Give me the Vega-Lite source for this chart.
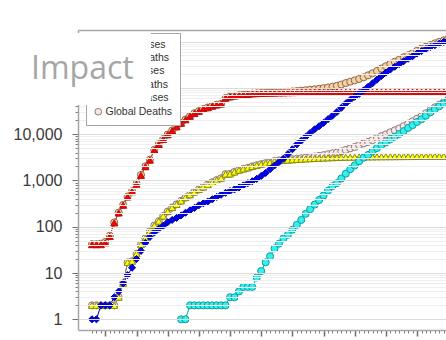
{
  "$schema": "https://vega.github.io/schema/vega-lite/v6.json",
  "width": 392,
  "height": 300,
  "autosize": {"type": "none"},
  "padding": {"left": 78, "top": 30, "right": 0, "bottom": 10},
  "background": "#ffffff",
  "title": {
    "text": "Impact", "orient": "top", "anchor": "start", "frame": "group",
    "offset": 0, "dx": -47, "dy": 80.5, "baseline": "alphabetic",
    "font": "Open Sans", "fontSize": 32, "fontWeight": "normal", "color": "#a6a6a6", "zindex": 4
  },
  "datasets": {
    "covid": [
      {"d":0,"China Cases":41,"China Deaths":2,"Other Cases":1,"Global Cases":42,"Global Deaths":2},
      {"d":1,"China Cases":41,"China Deaths":2,"Other Cases":1,"Global Cases":42,"Global Deaths":2},
      {"d":2,"China Cases":41,"China Deaths":2,"Other Cases":2,"Global Cases":43,"Global Deaths":2},
      {"d":3,"China Cases":45,"China Deaths":2,"Other Cases":2,"Global Cases":47,"Global Deaths":2},
      {"d":4,"China Cases":62,"China Deaths":2,"Other Cases":2,"Global Cases":64,"Global Deaths":2},
      {"d":5,"China Cases":121,"China Deaths":2,"Other Cases":3,"Global Cases":124,"Global Deaths":2},
      {"d":6,"China Cases":198,"China Deaths":3,"Other Cases":4,"Global Cases":202,"Global Deaths":3},
      {"d":7,"China Cases":291,"China Deaths":6,"Other Cases":6,"Global Cases":297,"Global Deaths":6},
      {"d":8,"China Cases":440,"China Deaths":17,"Other Cases":9,"Global Cases":449,"Global Deaths":17},
      {"d":9,"China Cases":571,"China Deaths":18,"Other Cases":13,"Global Cases":584,"Global Deaths":18},
      {"d":10,"China Cases":830,"China Deaths":26,"Other Cases":20,"Global Cases":850,"Global Deaths":26},
      {"d":11,"China Cases":1287,"China Deaths":41,"Other Cases":30,"Global Cases":1317,"Global Deaths":41},
      {"d":12,"China Cases":1975,"China Deaths":56,"Other Cases":45,"Global Cases":2020,"Global Deaths":56},
      {"d":13,"China Cases":2744,"China Deaths":80,"Other Cases":60,"Global Cases":2804,"Global Deaths":80},
      {"d":14,"China Cases":4515,"China Deaths":106,"Other Cases":75,"Global Cases":4590,"Global Deaths":106},
      {"d":15,"China Cases":5974,"China Deaths":132,"Other Cases":90,"Global Cases":6064,"Global Deaths":132},
      {"d":16,"China Cases":7711,"China Deaths":170,"Other Cases":105,"Global Cases":7816,"Global Deaths":170},
      {"d":17,"China Cases":9692,"China Deaths":213,"Other Cases":125,"Global Cases":9817,"Global Deaths":213},
      {"d":18,"China Cases":11791,"China Deaths":259,"Other Cases":140,"Global Cases":11931,"Global Deaths":259},
      {"d":19,"China Cases":14380,"China Deaths":304,"Other Cases":155,"Global Cases":14535,"Global Deaths":304},
      {"d":20,"China Cases":17205,"China Deaths":361,"Other Cases":175,"Other Deaths":1,"Global Cases":17380,"Global Deaths":362},
      {"d":21,"China Cases":20438,"China Deaths":425,"Other Cases":200,"Other Deaths":1,"Global Cases":20638,"Global Deaths":426},
      {"d":22,"China Cases":24324,"China Deaths":490,"Other Cases":225,"Other Deaths":2,"Global Cases":24549,"Global Deaths":492},
      {"d":23,"China Cases":28018,"China Deaths":562,"Other Cases":255,"Other Deaths":2,"Global Cases":28273,"Global Deaths":564},
      {"d":24,"China Cases":31161,"China Deaths":636,"Other Cases":290,"Other Deaths":2,"Global Cases":31451,"Global Deaths":638},
      {"d":25,"China Cases":34546,"China Deaths":722,"Other Cases":320,"Other Deaths":2,"Global Cases":34866,"Global Deaths":724},
      {"d":26,"China Cases":37198,"China Deaths":811,"Other Cases":350,"Other Deaths":2,"Global Cases":37548,"Global Deaths":813},
      {"d":27,"China Cases":40171,"China Deaths":908,"Other Cases":390,"Other Deaths":2,"Global Cases":40561,"Global Deaths":910},
      {"d":28,"China Cases":42638,"China Deaths":1016,"Other Cases":440,"Other Deaths":2,"Global Cases":43078,"Global Deaths":1018},
      {"d":29,"China Cases":44653,"China Deaths":1113,"Other Cases":490,"Other Deaths":2,"Global Cases":45143,"Global Deaths":1115},
      {"d":30,"China Cases":59804,"China Deaths":1367,"Other Cases":540,"Other Deaths":2,"Global Cases":60344,"Global Deaths":1369},
      {"d":31,"China Cases":63851,"China Deaths":1380,"Other Cases":590,"Other Deaths":3,"Global Cases":64441,"Global Deaths":1383},
      {"d":32,"China Cases":66492,"China Deaths":1523,"Other Cases":640,"Other Deaths":3,"Global Cases":67132,"Global Deaths":1526},
      {"d":33,"China Cases":68500,"China Deaths":1665,"Other Cases":700,"Other Deaths":4,"Global Cases":69200,"Global Deaths":1669},
      {"d":34,"China Cases":70548,"China Deaths":1770,"Other Cases":780,"Other Deaths":5,"Global Cases":71328,"Global Deaths":1775},
      {"d":35,"China Cases":72436,"China Deaths":1868,"Other Cases":870,"Other Deaths":5,"Global Cases":73306,"Global Deaths":1873},
      {"d":36,"China Cases":74185,"China Deaths":2004,"Other Cases":960,"Other Deaths":5,"Global Cases":75145,"Global Deaths":2009},
      {"d":37,"China Cases":75002,"China Deaths":2118,"Other Cases":1080,"Other Deaths":8,"Global Cases":76082,"Global Deaths":2126},
      {"d":38,"China Cases":75891,"China Deaths":2236,"Other Cases":1250,"Other Deaths":11,"Global Cases":77141,"Global Deaths":2247},
      {"d":39,"China Cases":76288,"China Deaths":2345,"Other Cases":1450,"Other Deaths":17,"Global Cases":77738,"Global Deaths":2362},
      {"d":40,"China Cases":76936,"China Deaths":2442,"Other Cases":1750,"Other Deaths":23,"Global Cases":78686,"Global Deaths":2465},
      {"d":41,"China Cases":77150,"China Deaths":2592,"Other Cases":2100,"Other Deaths":34,"Global Cases":79250,"Global Deaths":2626},
      {"d":42,"China Cases":77658,"China Deaths":2663,"Other Cases":2500,"Other Deaths":43,"Global Cases":80158,"Global Deaths":2706},
      {"d":43,"China Cases":78064,"China Deaths":2715,"Other Cases":2950,"Other Deaths":56,"Global Cases":81014,"Global Deaths":2771},
      {"d":44,"China Cases":78497,"China Deaths":2744,"Other Cases":3700,"Other Deaths":67,"Global Cases":82197,"Global Deaths":2811},
      {"d":45,"China Cases":78824,"China Deaths":2788,"Other Cases":4700,"Other Deaths":86,"Global Cases":83524,"Global Deaths":2874},
      {"d":46,"China Cases":79251,"China Deaths":2835,"Other Cases":6000,"Other Deaths":110,"Global Cases":85251,"Global Deaths":2945},
      {"d":47,"China Cases":79824,"China Deaths":2870,"Other Cases":7200,"Other Deaths":140,"Global Cases":87024,"Global Deaths":3010},
      {"d":48,"China Cases":80026,"China Deaths":2912,"Other Cases":8800,"Other Deaths":190,"Global Cases":88826,"Global Deaths":3102},
      {"d":49,"China Cases":80151,"China Deaths":2943,"Other Cases":10600,"Other Deaths":240,"Global Cases":90751,"Global Deaths":3183},
      {"d":50,"China Cases":80270,"China Deaths":2981,"Other Cases":12700,"Other Deaths":300,"Global Cases":92970,"Global Deaths":3281},
      {"d":51,"China Cases":80409,"China Deaths":3012,"Other Cases":14800,"Other Deaths":377,"Global Cases":95209,"Global Deaths":3389},
      {"d":52,"China Cases":80552,"China Deaths":3042,"Other Cases":17500,"Other Deaths":470,"Global Cases":98052,"Global Deaths":3512},
      {"d":53,"China Cases":80651,"China Deaths":3070,"Other Cases":21000,"Other Deaths":600,"Global Cases":101651,"Global Deaths":3670},
      {"d":54,"China Cases":80695,"China Deaths":3097,"Other Cases":25000,"Other Deaths":750,"Global Cases":105695,"Global Deaths":3847},
      {"d":55,"China Cases":80735,"China Deaths":3119,"Other Cases":30000,"Other Deaths":870,"Global Cases":110735,"Global Deaths":3989},
      {"d":56,"China Cases":80754,"China Deaths":3136,"Other Cases":37000,"Other Deaths":1100,"Global Cases":117754,"Global Deaths":4236},
      {"d":57,"China Cases":80778,"China Deaths":3158,"Other Cases":46000,"Other Deaths":1400,"Global Cases":126778,"Global Deaths":4558},
      {"d":58,"China Cases":80793,"China Deaths":3169,"Other Cases":55000,"Other Deaths":1750,"Global Cases":135793,"Global Deaths":4919},
      {"d":59,"China Cases":80813,"China Deaths":3176,"Other Cases":64000,"Other Deaths":2100,"Global Cases":144813,"Global Deaths":5276},
      {"d":60,"China Cases":80824,"China Deaths":3189,"Other Cases":74000,"Other Deaths":2600,"Global Cases":154824,"Global Deaths":5789},
      {"d":61,"China Cases":80844,"China Deaths":3199,"Other Cases":88000,"Other Deaths":3100,"Global Cases":168844,"Global Deaths":6299},
      {"d":62,"China Cases":80860,"China Deaths":3213,"Other Cases":105000,"Other Deaths":3550,"Global Cases":185860,"Global Deaths":6763},
      {"d":63,"China Cases":80881,"China Deaths":3226,"Other Cases":125000,"Other Deaths":4200,"Global Cases":205881,"Global Deaths":7426},
      {"d":64,"China Cases":80894,"China Deaths":3237,"Other Cases":150000,"Other Deaths":5000,"Global Cases":230894,"Global Deaths":8237},
      {"d":65,"China Cases":80928,"China Deaths":3245,"Other Cases":180000,"Other Deaths":5800,"Global Cases":260928,"Global Deaths":9045},
      {"d":66,"China Cases":80967,"China Deaths":3248,"Other Cases":212000,"Other Deaths":6600,"Global Cases":292967,"Global Deaths":9848},
      {"d":67,"China Cases":81008,"China Deaths":3255,"Other Cases":248000,"Other Deaths":7700,"Global Cases":329008,"Global Deaths":10955},
      {"d":68,"China Cases":81054,"China Deaths":3261,"Other Cases":285000,"Other Deaths":8800,"Global Cases":366054,"Global Deaths":12061},
      {"d":69,"China Cases":81093,"China Deaths":3270,"Other Cases":325000,"Other Deaths":10000,"Global Cases":406093,"Global Deaths":13270},
      {"d":70,"China Cases":81171,"China Deaths":3277,"Other Cases":375000,"Other Deaths":11600,"Global Cases":456171,"Global Deaths":14877},
      {"d":71,"China Cases":81218,"China Deaths":3281,"Other Cases":425000,"Other Deaths":13600,"Global Cases":506218,"Global Deaths":16881},
      {"d":72,"China Cases":81285,"China Deaths":3287,"Other Cases":480000,"Other Deaths":15600,"Global Cases":561285,"Global Deaths":18887},
      {"d":73,"China Cases":81340,"China Deaths":3292,"Other Cases":550000,"Other Deaths":18300,"Global Cases":631340,"Global Deaths":21592},
      {"d":74,"China Cases":81394,"China Deaths":3295,"Other Cases":620000,"Other Deaths":21000,"Global Cases":701394,"Global Deaths":24295},
      {"d":75,"China Cases":81470,"China Deaths":3300,"Other Cases":690000,"Other Deaths":25000,"Global Cases":771470,"Global Deaths":28300},
      {"d":76,"China Cases":81518,"China Deaths":3304,"Other Cases":760000,"Other Deaths":29500,"Global Cases":841518,"Global Deaths":32804},
      {"d":77,"China Cases":81554,"China Deaths":3308,"Other Cases":830000,"Other Deaths":34500,"Global Cases":911554,"Global Deaths":37808},
      {"d":78,"China Cases":81589,"China Deaths":3312,"Other Cases":900000,"Other Deaths":40000,"Global Cases":981589,"Global Deaths":43312},
      {"d":79,"China Cases":81620,"China Deaths":3318,"Other Cases":980000,"Other Deaths":46000,"Global Cases":1061620,"Global Deaths":49318},
      {"d":80,"China Cases":81669,"China Deaths":3326,"Other Cases":1060000,"Other Deaths":52000,"Global Cases":1141669,"Global Deaths":55326},
      {"d":81,"China Cases":81708,"China Deaths":3330,"Other Cases":1130000,"Other Deaths":58000,"Global Cases":1211708,"Global Deaths":61330},
      {"d":82,"China Cases":81740,"China Deaths":3331,"Other Cases":1200000,"Other Deaths":64000,"Global Cases":1281740,"Global Deaths":67331}
    ],
    "impact": [{"t": 0}, {"t": 1}]
  },
  "layer": [
    {
      "data": {"name": "covid"},
      "transform": [
        {"fold": ["China Cases", "China Deaths", "Other Cases", "Other Deaths", "Global Cases", "Global Deaths"], "as": ["s", "v"]},
        {"filter": "isValid(datum.v)"}
      ],
      "mark": {"type": "line", "strokeWidth": 1},
      "encoding": {
        "x": {
          "field": "d", "type": "quantitative",
          "scale": {"domain": [-3.14, 84.89], "nice": false, "zero": false},
          "axis": {"orient": "bottom", "values": [0,1,2,3,4,5,6,7,8,9,10,11,12,13,14,15,16,17,18,19,20,21,22,23,24,25,26,27,28,29,30,31,32,33,34,35,36,37,38,39,40,41,42,43,44,45,46,47,48,49,50,51,52,53,54,55,56,57,58,59,60,61,62,63,64,65,66,67,68,69,70,71,72,73,74,75,76,77,78,79,80,81,82,83,84], "labels": false, "domain": false, "grid": false, "tickSize": 3, "tickColor": "#7f7f7f", "tickWidth": 1, "title": null, "zindex": 1}
        },
        "y": {
          "field": "v", "type": "quantitative",
          "scale": {"type": "log", "domain": [0.5874, 1772000], "nice": false},
          "axis": {"orient": "left", "values": [2,3,4,5,6,7,8,9,20,30,40,50,60,70,80,90,200,300,400,500,600,700,800,900,2000,3000,4000,5000,6000,7000,8000,9000,20000,30000,40000,50000,60000,70000,80000,90000,200000,300000,400000,500000,600000,700000,800000,900000], "labels": false, "domain": false, "grid": true, "gridColor": "#efefef", "gridWidth": 1, "tickSize": 3, "tickColor": "#7f7f7f", "title": null, "zindex": 1}
        },
        "color": {
          "field": "s", "type": "nominal",
          "scale": {"range": ["#b01010", "#8a8a10", "#8c6a4a", "#8c7a7a", "#00008a", "#119c9c"]},
          "legend": null
        }
      }
    },
    {
      "data": {"name": "covid"},
      "transform": [
        {"fold": ["Global Cases", "Global Deaths"], "as": ["s", "v"]},
        {"filter": "isValid(datum.v)"}
      ],
      "mark": {"type": "point", "filled": true, "size": 50, "strokeWidth": 1, "opacity": 1},
      "encoding": {
        "x": {
          "field": "d", "type": "quantitative",
          "axis": {"orient": "bottom", "values": [3,10,17,24,31,38,45,52,59,66,73,80], "labels": false, "domain": true, "domainColor": "#a6a6a6", "domainWidth": 1.5, "grid": false, "tickSize": 6, "tickColor": "#6f6f6f", "tickWidth": 1.5, "title": null, "zindex": 1}
        },
        "y": {
          "field": "v", "type": "quantitative",
          "axis": {"orient": "left", "values": [1,10,100,1000,10000,100000,1000000], "format": ",", "labelExpr": "datum.value <= 10000 ? datum.label : ''", "labelFont": "Liberation Sans", "labelFontSize": 16, "labelColor": "#3a3a3a", "labelPadding": 10, "domain": true, "domainColor": "#a6a6a6", "domainWidth": 1.5, "grid": true, "gridColor": "#dcdcdc", "gridWidth": 1, "tickSize": 6, "tickColor": "#6f6f6f", "tickWidth": 1, "title": null, "zindex": 1}
        },
        "fill": {
          "field": "s", "type": "nominal",
          "scale": {"domain": ["China Cases", "China Deaths", "Other Cases", "Other Deaths", "Global Cases", "Global Deaths"], "range": ["#ff0000", "#ffff00", "#0000ff", "#33f0f0", "#f6d0a6", "#fbe6e6"]}
        },
        "stroke": {
          "field": "s", "type": "nominal",
          "scale": {"domain": ["China Cases", "China Deaths", "Other Cases", "Other Deaths", "Global Cases", "Global Deaths"], "range": ["#b01010", "#8a8a10", "#00008a", "#119c9c", "#8c6a4a", "#8c7a7a"]}
        },
        "shape": {
          "field": "s", "type": "nominal",
          "scale": {"domain": ["China Cases", "China Deaths", "Other Cases", "Other Deaths", "Global Cases", "Global Deaths"], "range": ["triangle-up", "triangle-up", "diamond", "circle", "circle", "circle"]}
        }
      }
    },
    {
      "data": {"name": "covid"},
      "transform": [
        {"fold": ["China Cases", "China Deaths", "Other Cases", "Other Deaths"], "as": ["s", "v"]},
        {"filter": "isValid(datum.v)"}
      ],
      "mark": {"type": "point", "filled": true, "size": 50, "strokeWidth": 1, "opacity": 1},
      "encoding": {
        "x": {
          "field": "d", "type": "quantitative",
          "axis": {"orient": "top", "labels": false, "ticks": false, "grid": false, "domain": true, "domainColor": "#a6a6a6", "domainWidth": 1.5, "title": null, "zindex": 1}
        },
        "y": {"field": "v", "type": "quantitative", "axis": null},
        "fill": {"field": "s", "type": "nominal"},
        "stroke": {"field": "s", "type": "nominal"},
        "shape": {"field": "s", "type": "nominal"},
        "order": {"field": "s", "sort": "ascending"}
      }
    },
    {
      "data": {"name": "impact"},
      "mark": {"type": "point", "opacity": 0, "filled": true},
      "encoding": {
        "color": {
          "field": "t", "type": "quantitative",
          "scale": {"range": ["#ffffff", "#ffffff"]},
          "legend": {
            "title": null, "orient": "none", "legendX": -78, "legendY": 3,
            "direction": "horizontal", "gradientLength": 150, "gradientThickness": 70,
            "gradientStrokeWidth": 0, "gradientStrokeColor": "#ffffff", "gradientOpacity": 1,
            "labelExpr": "''", "labelFontSize": 1, "labelOffset": 0, "labelOpacity": 0,
            "padding": 0, "fillColor": "#ffffff", "strokeColor": "#ffffff", "strokeWidth": 0, "zindex": 3
          }
        }
      }
    }
  ],
  "resolve": {"axis": {"x": "independent", "y": "independent"}, "scale": {"color": "independent"}},
  "config": {
    "view": {"stroke": null},
    "legend": {
      "title": null, "orient": "none", "legendX": 8, "legendY": 3, "padding": 7,
      "fillColor": "#ffffff", "strokeColor": "#a6a6a6", "strokeWidth": 1,
      "labelFont": "Liberation Sans", "labelFontSize": 10.5, "labelColor": "#333333", "labelOffset": 2,
      "labelLimit": 200, "rowPadding": 1.5, "symbolSize": 45, "symbolStrokeWidth": 1, "zindex": 1
    }
  }
}
